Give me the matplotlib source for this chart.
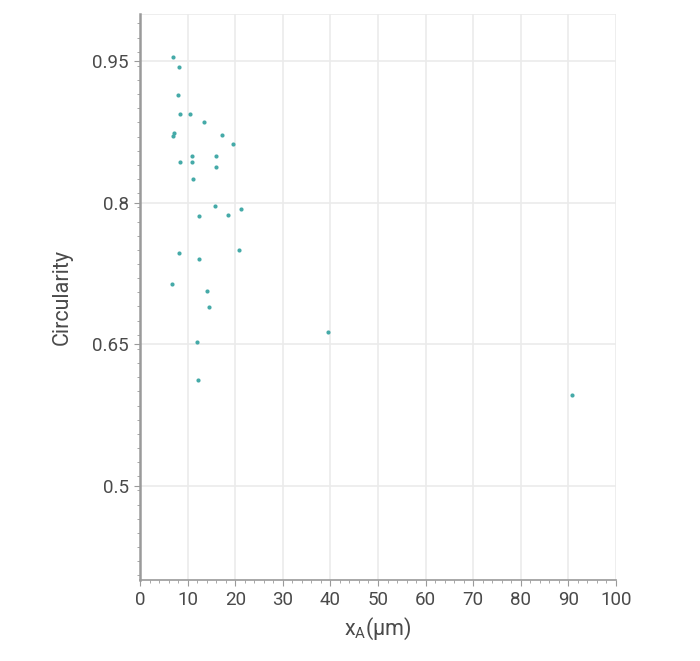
import numpy as np
import matplotlib
matplotlib.use("Agg")
import matplotlib.pyplot as plt
from matplotlib.ticker import MultipleLocator

plt.rcParams["font.family"] = ["Roboto", "DejaVu Sans"]

# x_A (um) and circularity
x_a = [7.0, 8.2, 8.05, 8.3, 10.5, 13.4, 17.2, 19.5, 7.1, 7.0,
       11.0, 15.9, 8.4, 10.9, 16.0, 11.1,
       15.7, 21.2, 18.4, 12.3, 8.1, 20.8, 12.3, 6.8, 14.0, 14.5,
       12.0, 12.2, 39.6, 90.8]
circ = [0.954, 0.944, 0.914, 0.894, 0.894, 0.885, 0.872, 0.862, 0.874, 0.871,
        0.849, 0.850, 0.843, 0.843, 0.838, 0.825,
        0.7965, 0.793, 0.787, 0.786, 0.747, 0.750, 0.740, 0.714, 0.706, 0.689,
        0.652, 0.612, 0.663, 0.596]

x_ticks = list(range(0, 101, 10))
y_ticks = [0.5, 0.65, 0.8, 0.95]
y_labels = ["0.5", "0.65", "0.8", "0.95"]

DOT = "#45aaa8"
TXT = "#4a4a4a"
GRID = "#ebebeb"

fig = plt.figure(figsize=(7, 6.61), dpi=100)
ax = fig.add_axes([0.2, 0.1225, 0.68, 0.8563])

ax.scatter(x_a, circ, s=9, color=DOT, linewidths=0, zorder=3)

ax.set_xlim(0, 100)
ax.set_ylim(0.4, 1.0)
ax.set_xticks(x_ticks)
ax.set_yticks(y_ticks)
ax.set_yticklabels(y_labels)
ax.xaxis.set_minor_locator(MultipleLocator(2))
ax.yaxis.set_minor_locator(MultipleLocator(0.015))

# grid incl. the outer lines at x=100 / y=1.0
for xv in x_ticks[1:]:
    ax.axvline(xv, color=GRID, lw=1.2, zorder=0)
for yv in y_ticks + [1.0]:
    ax.axhline(yv, color=GRID, lw=1.2, zorder=0)

for s in ("top", "right"):
    ax.spines[s].set_visible(False)
ax.spines["left"].set_color("#9a9a9a")
ax.spines["left"].set_linewidth(1.8)
ax.spines["bottom"].set_color("#9a9a9a")
ax.spines["bottom"].set_linewidth(1.2)

ax.tick_params(axis="both", which="major", length=4, color="#9a9a9a",
               labelsize=13.5, labelcolor=TXT, pad=4)
ax.tick_params(axis="both", which="minor", length=2, color="#9a9a9a")

ax.set_ylabel("Circularity", fontsize=15.5, color=TXT, labelpad=14)
ax.set_xlabel(r"x$_\mathregular{A}$(μm)", fontsize=15.5, color=TXT, labelpad=5)

fig.savefig("out.png", dpi=100)
